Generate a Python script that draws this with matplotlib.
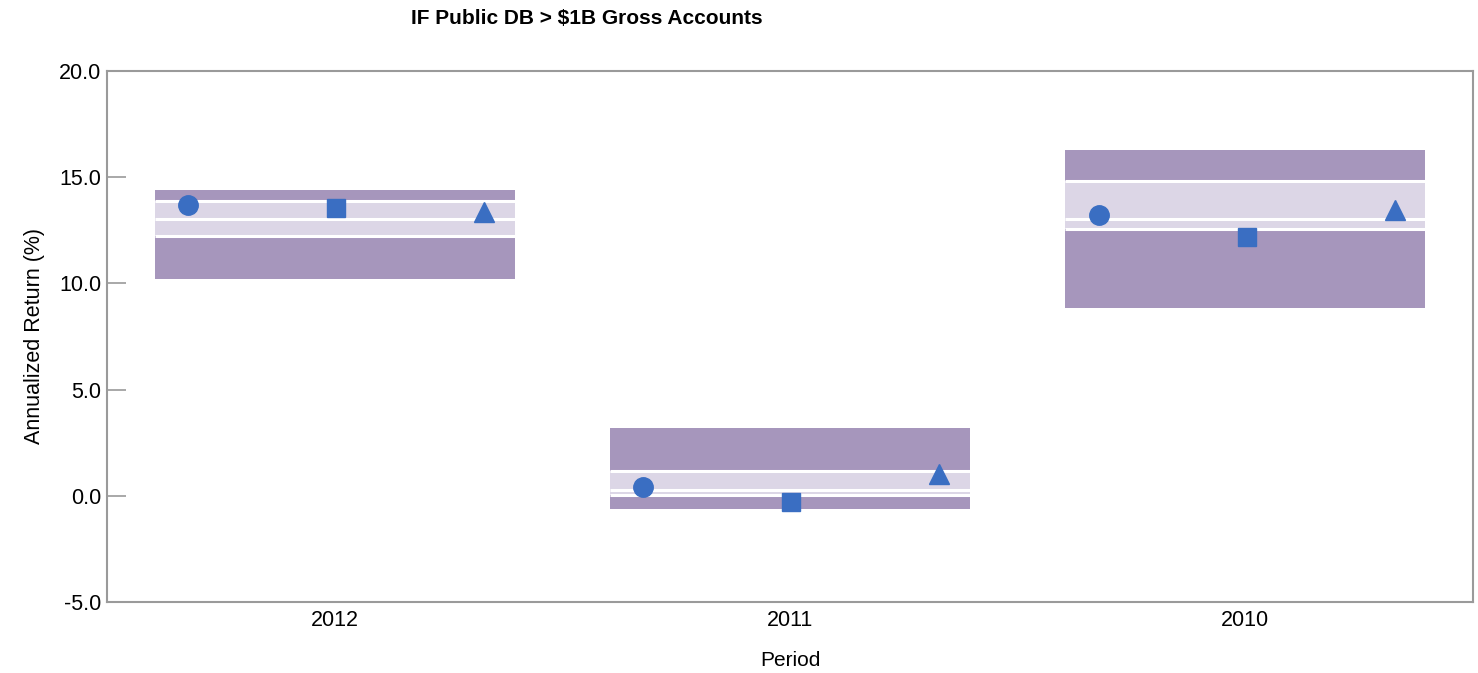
import matplotlib
matplotlib.use("Agg")
import matplotlib.pyplot as plt
import numpy as np

periods = ["2012", "2011", "2010"]
p5 = [14.40, 3.20, 16.30]
p25 = [13.86, 1.17, 14.82]
p50 = [13.05, 0.25, 13.02]
p75 = [12.22, 0.05, 12.56]
p95 = [10.20, -0.60, 8.83]

circle_vals = [13.68, 0.41, 13.22]
square_vals = [13.55, -0.29, 12.19]
triangle_vals = [13.36, 1.04, 13.46]

DARK = "#A696BC"
LIGHT = "#DCD6E6"
MARK = "#3A6EC2"
AXC = "#9A9A9A"

plt.rcParams['font.family'] = ['Liberation Sans', 'DejaVu Sans']

fig = plt.figure(figsize=(14.78, 6.73), dpi=100)
ax = fig.add_axes([0.0724, 0.1055, 0.9242, 0.789])

x = np.arange(len(periods))
w = 0.79
p5a, p25a, p50a, p75a, p95a = map(np.array, (p5, p25, p50, p75, p95))
ax.bar(x, p5a - p25a, bottom=p25a, width=w, color=DARK, zorder=1)
ax.bar(x, p25a - p50a, bottom=p50a, width=w, color=LIGHT, zorder=1)
ax.bar(x, p50a - p75a, bottom=p75a, width=w, color=LIGHT, zorder=1)
ax.bar(x, p75a - p95a, bottom=p95a, width=w, color=DARK, zorder=1)
for arr in (p25a, p50a, p75a):
    ax.hlines(arr, x - w / 2, x + w / 2, colors="white", lw=2.2, zorder=2)

ax.plot(x - 0.322, circle_vals, "o", color=MARK, ms=14, ls="none", zorder=3)
ax.plot(x + 0.003, square_vals, "s", color=MARK, ms=13.5, ls="none", zorder=3)
ax.plot(x + 0.328, triangle_vals, "^", color=MARK, ms=14, ls="none", zorder=3)

ax.set_xlim(-0.5, 2.5)
ax.set_ylim(-5, 20)
ax.set_yticks([-5, 0, 5, 10, 15, 20])
ax.set_yticklabels(["-5.0", "0.0", "5.0", "10.0", "15.0", "20.0"])
ax.set_xticks(x)
ax.set_xticklabels(periods)
ax.tick_params(axis="y", direction="in", length=14, width=1.2, color=AXC, labelsize=15.5, pad=4)
ax.tick_params(axis="x", length=0, labelsize=15.5, pad=6)
for s in ax.spines.values():
    s.set_color(AXC)
    s.set_linewidth(1.5)

ax.set_xlabel("Period", fontsize=15, labelpad=14)
ax.set_ylabel("Annualized Return (%)", fontsize=15.5, labelpad=10)
fig.text(0.397, 0.973, "IF Public DB > $1B Gross Accounts", fontsize=15, fontweight="bold",
         ha="center", va="center")

fig.savefig("out.png", dpi=100)
